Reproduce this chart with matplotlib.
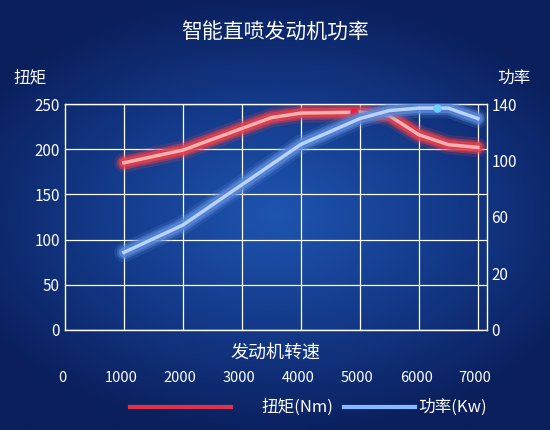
import matplotlib.pyplot as plt
import numpy as np
from matplotlib.colors import LinearSegmentedColormap

plt.rcParams['font.family'] = ['Noto Sans CJK SC', 'DejaVu Sans']

rpm = [1000, 2000, 3000, 3500, 4000, 5000, 5500, 6000, 6500, 7000]
torque = [185, 199, 223, 235, 240, 241, 237, 216, 205, 202]
rpm_p = [1000, 2000, 3000, 4000, 5000, 5500, 6000, 6500, 7000]
power = [48, 65, 90, 115, 131, 136, 137.5, 137.5, 131]
torque_peak = (4900, 241)
power_peak = (6300, 137.5)
x_ticks = [0, 1000, 2000, 3000, 4000, 5000, 6000, 7000]
left_ticks = [0, 50, 100, 150, 200, 250]
right_labels = ['0', '20', '60', '100', '140']

fig = plt.figure(figsize=(5.5, 4.3), dpi=100)
bg = fig.add_axes([0, 0, 1, 1])
yy, xx = np.mgrid[0:1:200j, 0:1:200j]
glow = np.clip(1 - np.hypot(xx - 0.5, (yy - 0.5) * 1.2) * 1.6, 0, 1)
cmap = LinearSegmentedColormap.from_list('bgblue', ['#0a1f5c', '#143a8a', '#1e55b0'])
bg.imshow(glow, cmap=cmap, extent=[0, 1, 0, 1], aspect='auto', vmin=0, vmax=1)
bg.axis('off')

ax = fig.add_axes([0.118, 0.233, 0.767, 0.525])
ax.patch.set_alpha(0)
ax.set_xlim(0, 7150)
ax.set_ylim(0, 250)
ax.set_xticks(x_ticks[1:])
ax.set_yticks(left_ticks)
ax.grid(True, color='white', lw=0.9)
ax.tick_params(colors='white', length=0, labelsize=11)
ax.set_xticklabels([])
for s in ax.spines.values():
    s.set_color('white')
    s.set_linewidth(1)

ax2 = ax.twinx()
ax2.set_ylim(0, 140)
ax2.set_yticks([0, 35, 70, 105, 140])
ax2.set_yticklabels(right_labels)
ax2.tick_params(colors='white', length=0, labelsize=11)
for s in ax2.spines.values():
    s.set_visible(False)

for lw, a in [(14, 0.2), (10, 0.45), (7, 0.8)]:
    ax.plot(rpm, torque, color='#e8404a', lw=lw, alpha=a, solid_capstyle='round', solid_joinstyle='round')
    ax2.plot(rpm_p, power, color='#5a88d8', lw=lw, alpha=a, solid_capstyle='round', solid_joinstyle='round')
ax.plot(rpm, torque, color='#ffb0b0', lw=2.5, solid_joinstyle='round')
ax2.plot(rpm_p, power, color='#b8d4ff', lw=2.5, solid_joinstyle='round')
ax.plot(*torque_peak, 'o', color='#ff1030', ms=5)
ax2.plot(*power_peak, 'o', color='#6ad0ff', ms=5)

for t in x_ticks:
    fig.text(0.113 + t / 7150 * 0.767, 1 - 378 / 430, str(t), color='white',
             ha='center', va='center', fontsize=10.5)
fig.text(0.5, 1 - 353 / 430, '发动机转速', color='white', ha='center', va='center', fontsize=13)
fig.text(0.055, 1 - 78 / 430, '扭矩', color='white', ha='center', va='center', fontsize=12)
fig.text(0.935, 1 - 78 / 430, '功率', color='white', ha='center', va='center', fontsize=12)
fig.text(0.5, 1 - 33 / 430, '智能直喷发动机功率', color='white', ha='center', va='center', fontsize=15)

fig.lines.append(plt.Line2D([0.236, 0.42], [1 - 407 / 430] * 2, color='#e0304a', lw=3, transform=fig.transFigure))
fig.text(0.475, 1 - 407 / 430, '扭矩(Nm)', color='white', ha='left', va='center', fontsize=12)
fig.lines.append(plt.Line2D([0.625, 0.755], [1 - 407 / 430] * 2, color='#8ab8ff', lw=3, transform=fig.transFigure))
fig.text(0.76, 1 - 407 / 430, '功率(Kw)', color='white', ha='left', va='center', fontsize=12)

fig.savefig('out.png', dpi=100)
